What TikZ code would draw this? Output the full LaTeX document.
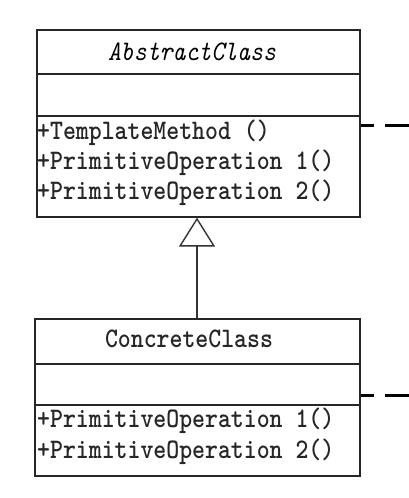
\documentclass[tikz,border=0pt]{standalone}
\usetikzlibrary{arrows.meta}
\newcommand\tallbox[1]{\scalebox{1}[1.15]{#1}}
\begin{document}
\begin{tikzpicture}[x=1pt,y=-1pt,
  classbox/.style={draw=black!85, line width=1.6pt, rectangle, anchor=north west, inner sep=0pt},
  sep/.style={draw=black!85, line width=1.6pt},
  txt/.style={font=\fontsize{24.6}{28}\selectfont\ttfamily\bfseries, text=black!85, inner sep=0pt},
  ttl/.style={font=\fontsize{24.6}{28}\selectfont\ttfamily\itshape, text=black, inner sep=0pt},
  inherit/.style={draw=black!80, line width=1.1pt, -{Triangle[open, width=36pt, length=29pt, line width=1.4pt]}},
  link/.style={draw=black, line width=3pt, dash pattern=on 13pt off 11pt on 30pt off 10pt}]
\useasboundingbox (0,0) rectangle (408,498);
\fill[white] (0,0) rectangle (408,498);
% AbstractClass box
\node[classbox, minimum width=323pt, minimum height=187pt] (abs) at (36,29) {};
\draw[sep] (36,74) -- (359,74);
\draw[sep] (36,116) -- (359,116);
\node[ttl] (absname) at (192,52) {\tallbox{AbstractClass}};
\node[txt, anchor=west] (m1) at (37,133) {\tallbox{+TemplateMethod ()}};
\node[txt, anchor=west] (m2) at (37,163) {\tallbox{+PrimitiveOperation 1()}};
\node[txt, anchor=west] (m3) at (37,193) {\tallbox{+PrimitiveOperation 2()}};
% ConcreteClass box
\node[classbox, minimum width=325pt, minimum height=157pt] (conc) at (34,318) {};
\draw[sep] (34,364) -- (359,364);
\draw[sep] (34,405) -- (359,405);
\node[txt] (concname) at (189,339) {\tallbox{ConcreteClass}};
\node[txt, anchor=west] (c1) at (37,421) {\tallbox{+PrimitiveOperation 1()}};
\node[txt, anchor=west] (c2) at (37,452) {\tallbox{+PrimitiveOperation 2()}};
% inheritance
\draw[inherit] (conc.north -| 197,0) -- (abs.south -| 197,0);
% dashed links leaving the picture
\coordinate (d1) at (410,125);
\coordinate (d2) at (410,395);
\draw[link] (abs.east |- d1) -- (d1);
\draw[link] (conc.east |- d2) -- (d2);
\end{tikzpicture}
\end{document}
